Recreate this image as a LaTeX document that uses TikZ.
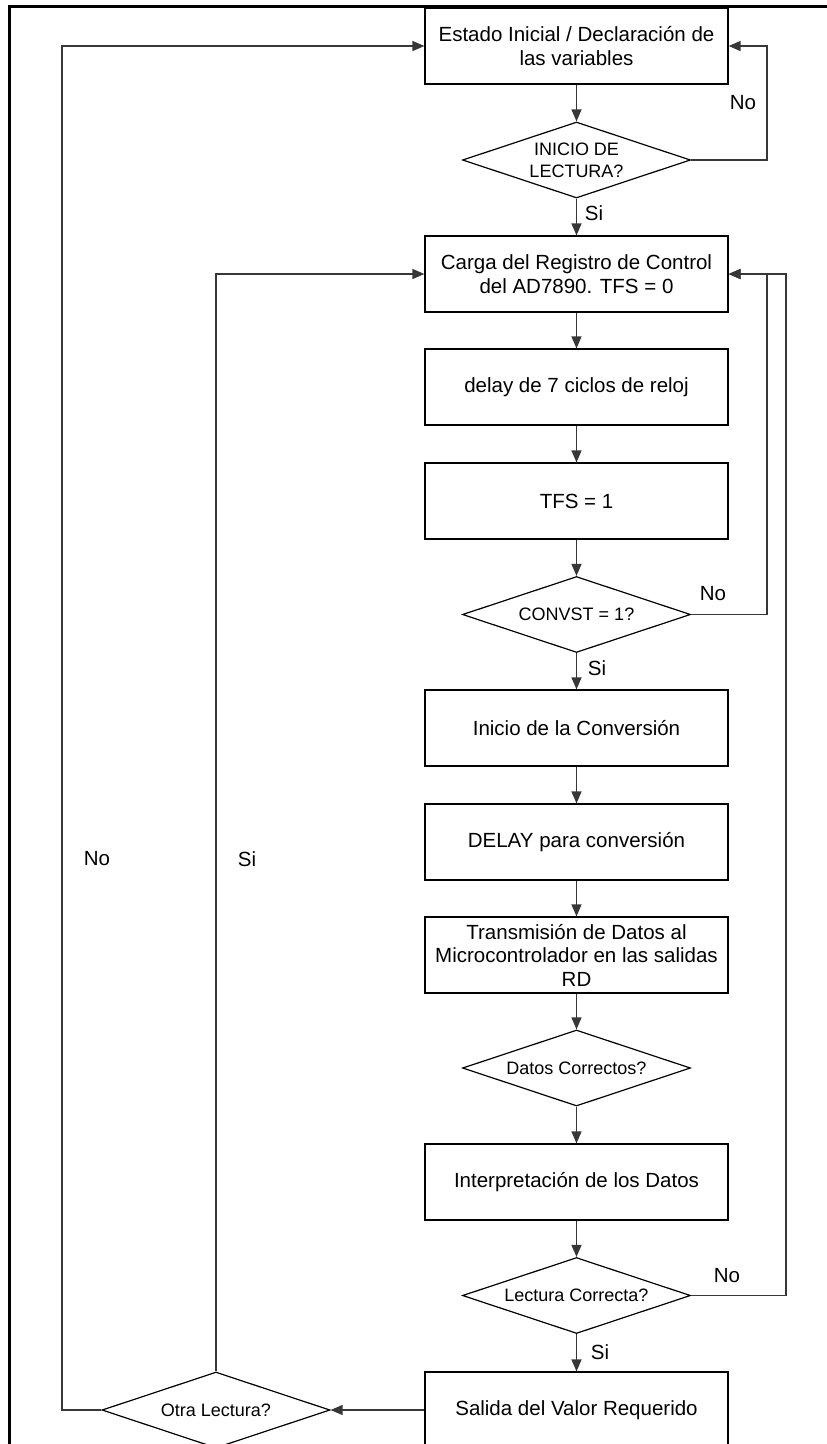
\documentclass[tikz,border=0pt]{standalone}
\usepackage{fontspec}
\setmainfont{Liberation Sans}
\usetikzlibrary{shapes.geometric,arrows.meta}

\tikzset{every picture/.style={line width=1.2pt}}
\tikzset{
  procbox/.style={draw=black, rectangle, minimum width=303pt, minimum height=76pt,
    inner sep=0pt, align=center, font=\fontsize{20.5}{23.5}\selectfont},
  decision/.style={draw=black, diamond, aspect=3, minimum width=228pt, minimum height=76pt,
    inner sep=0pt, align=center, font=\fontsize{18}{22}\selectfont},
  flow/.style={draw={rgb,255:red,55;green,55;blue,55}, line width=1.4pt,
    -{Triangle[length=12pt,width=10pt]}},
  answer/.style={font=\fontsize{20.5}{24}\selectfont, inner sep=0pt}
}

\begin{document}
\begin{tikzpicture}[x=1pt,y=1pt,yscale=-1,xscale=1]
\useasboundingbox (0,0) rectangle (827,1444);

%Frame
\draw [line width=3pt] (9,1444) -- (9,6) -- (827,6) ;

%Shapes: main column
\node [procbox] (ini) at (576.5,46) {Estado Inicial / Declaración de\\las variables};
\node [decision] (inicio) at (576.5,160) {INICIO DE\\LECTURA?};
\node [procbox] (carga) at (576.5,274) {Carga del Registro de Control\\del AD7890. TFS = 0};
\node [procbox] (retardo) at (576.5,387) {delay de 7 ciclos de reloj};
\node [procbox] (tfs) at (576.5,501) {TFS = 1};
\node [decision] (convst) at (576.5,614.5) {CONVST = 1?};
\node [procbox] (conv) at (576.5,728) {Inicio de la Conversión};
\node [procbox] (espera) at (576.5,842) {DELAY para conversión};
\node [procbox] (trans) at (576.5,955) {Transmisión de Datos al\\Microcontrolador en las salidas\\RD};
\node [decision] (datos) at (576.5,1068) {Datos Correctos?};
\node [procbox] (interp) at (576.5,1182) {Interpretación de los Datos};
\node [decision] (lectura) at (576.5,1295.5) {Lectura Correcta?};
\node [procbox] (salida) at (576.5,1410) {Salida del Valor Requerido};
%Shape: last decision
\node [decision] (otra) at (216,1410) {Otra Lectura?};

%Straight Lines: down the column
\draw [flow] (ini) -- (inicio) ;
\draw [flow] (inicio) -- (carga) ;
\draw [flow] (carga) -- (retardo) ;
\draw [flow] (retardo) -- (tfs) ;
\draw [flow] (tfs) -- (convst) ;
\draw [flow] (convst) -- (conv) ;
\draw [flow] (conv) -- (espera) ;
\draw [flow] (espera) -- (trans) ;
\draw [flow] (trans) -- (datos) ;
\draw [flow] (datos) -- (interp) ;
\draw [flow] (interp) -- (lectura) ;
\draw [flow] (lectura) -- (salida) ;
\draw [flow] (salida) -- (otra) ;

%Loops on the right
\draw [flow] (inicio.east) -- ++(76,0) |- (ini.east) ;
\draw [flow] (convst.east) -- ++(76,0) |- (carga.east) ;
\draw [flow] (lectura.east) -- ++(95,0) |- (carga.east) ;

%Loops on the left
\draw [flow] (otra.north) |- (carga.west) ;
\draw [flow] (otra.west) -- ++(-39.5,0) |- (ini.west) ;

%Labels
\node [answer] (no1) at (743,103) {No};
\node [answer] (si1) at (594,213) {Si};
\node [answer] (no2) at (713,594) {No};
\node [answer] (si2) at (597,668) {Si};
\node [answer] (no3) at (727,1276) {No};
\node [answer] (si3) at (600,1352) {Si};
\node [answer] (no4) at (97,859) {No};
\node [answer] (si4) at (247,859) {Si};

\end{tikzpicture}
\end{document}
